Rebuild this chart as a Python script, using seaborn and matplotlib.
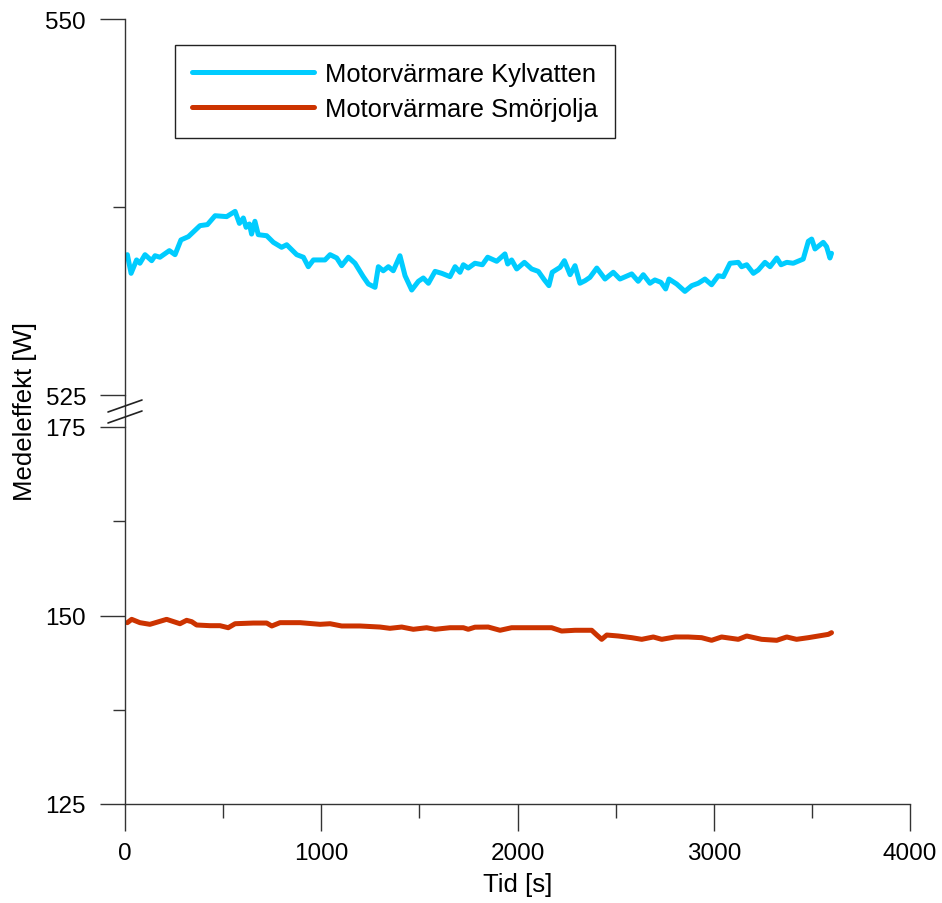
import pandas as pd
import matplotlib.pyplot as plt
import seaborn as sns
from matplotlib.lines import Line2D
from matplotlib.ticker import MultipleLocator

# Data
tid_kyl = [12, 31, 59, 76, 102, 136, 153, 178, 226, 255, 285, 323, 382, 420, 459, 518,
           561, 583, 603, 617, 634, 645, 662, 679, 722, 756, 798, 824, 875, 909, 934, 960,
           1019, 1045, 1079, 1104, 1138, 1172, 1214, 1240, 1274, 1291, 1316, 1342, 1367,
           1401, 1427, 1461, 1495, 1520, 1546, 1580, 1614, 1656, 1682, 1707, 1724, 1749,
           1783, 1821, 1848, 1894, 1936, 1950, 1970, 1996, 2035, 2072, 2106, 2137, 2160,
           2177, 2217, 2239, 2268, 2293, 2318, 2344, 2369, 2404, 2446, 2488, 2522, 2582,
           2615, 2641, 2675, 2700, 2731, 2755, 2772, 2811, 2853, 2888, 2921, 2955, 2989,
           3023, 3049, 3083, 3125, 3142, 3168, 3202, 3227, 3261, 3287, 3321, 3343, 3372,
           3405, 3456, 3482, 3499, 3516, 3558, 3575, 3592, 3600]
kylvatten = [534.33, 533.09, 533.98, 533.76, 534.33, 533.93, 534.26, 534.16, 534.60, 534.33,
             535.31, 535.53, 536.26, 536.33, 536.92, 536.86, 537.21, 536.41, 536.77, 536.15,
             536.37, 535.70, 536.55, 535.66, 535.59, 535.15, 534.82, 534.99, 534.33, 534.16,
             533.53, 533.98, 533.98, 534.33, 534.11, 533.60, 534.16, 533.76, 532.87, 532.38,
             532.16, 533.53, 533.26, 533.53, 533.26, 534.26, 532.93, 531.98, 532.56, 532.78,
             532.43, 533.22, 533.09, 532.87, 533.53, 533.16, 533.66, 533.44, 533.76, 533.66,
             534.16, 533.89, 534.38, 533.71, 533.98, 533.38, 533.82, 533.38, 533.22, 532.65,
             532.27, 533.16, 533.49, 533.93, 533.00, 533.60, 532.43, 532.60, 532.82, 533.44,
             532.71, 533.16, 532.71, 533.05, 532.56, 533.00, 532.43, 532.65, 532.49, 532.05,
             532.71, 532.38, 531.89, 532.27, 532.43, 532.71, 532.33, 532.93, 532.87, 533.76,
             533.82, 533.53, 533.66, 533.09, 533.31, 533.82, 533.53, 534.11, 533.66, 533.82,
             533.76, 534.04, 535.22, 535.37, 534.71, 535.15, 534.86, 534.11, 534.42]

tid_smor = [12, 34, 76, 127, 212, 280, 314, 340, 365, 433, 484, 526, 561, 654, 722, 748,
            790, 892, 994, 1045, 1104, 1197, 1299, 1350, 1410, 1469, 1537, 1580, 1656,
            1724, 1749, 1783, 1851, 1911, 1970, 2055, 2174, 2225, 2293, 2378, 2404, 2429,
            2455, 2514, 2582, 2633, 2692, 2735, 2803, 2870, 2938, 2989, 3040, 3125, 3168,
            3244, 3321, 3372, 3422, 3482, 3533, 3584, 3600]
smorjolja = [149.05, 149.49, 149.05, 148.83, 149.49, 148.91, 149.36, 149.18, 148.74, 148.65,
             148.65, 148.38, 148.91, 149.00, 149.00, 148.61, 149.05, 149.05, 148.83, 148.91,
             148.61, 148.61, 148.47, 148.30, 148.47, 148.17, 148.38, 148.17, 148.38, 148.38,
             148.17, 148.45, 148.47, 148.04, 148.38, 148.38, 148.38, 147.94, 148.04, 148.04,
             147.41, 146.84, 147.41, 147.28, 147.06, 146.84, 147.15, 146.84, 147.15, 147.15,
             147.06, 146.71, 147.15, 146.84, 147.28, 146.84, 146.71, 147.15, 146.84, 147.06,
             147.28, 147.50, 147.72]

serier = ['Motorvärmare Kylvatten', 'Motorvärmare Smörjolja']
farger = ['#00CCFF', '#CC3300']

df = pd.concat([
    pd.DataFrame({'Tid': tid_kyl, 'Effekt': kylvatten, 'Serie': serier[0]}),
    pd.DataFrame({'Tid': tid_smor, 'Effekt': smorjolja, 'Serie': serier[1]}),
])

sns.set_style('white')
plt.rcParams['font.family'] = ['Liberation Sans', 'DejaVu Sans']
plt.rcParams['text.color'] = 'black'
plt.rcParams['xtick.labelcolor'] = 'black'
plt.rcParams['ytick.labelcolor'] = 'black'
axfarg = '#333333'

fig = plt.figure(figsize=(9.42, 9.04), dpi=100)
L, W = 125 / 942, 785 / 942
ax_top = fig.add_axes([L, 1 - 396 / 904, W, 376 / 904])
ax_bot = fig.add_axes([L, 1 - 805 / 904, W, 377 / 904])

for ax in (ax_top, ax_bot):
    sns.lineplot(data=df, x='Tid', y='Effekt', hue='Serie', palette=farger,
                 estimator=None, sort=False, linewidth=3.6, ax=ax, legend=(ax is ax_top))
    ax.set_xlim(0, 4000)
    ax.set_xlabel('')
    ax.set_ylabel('')
    ax.spines['top'].set_visible(False)
    ax.spines['right'].set_visible(False)
    ax.spines['left'].set_color(axfarg)
    ax.spines['left'].set_linewidth(1)
    ax.tick_params(axis='y', which='major', direction='out', length=18, width=1,
                   color=axfarg, labelsize=17.5, pad=10, left=True)
    ax.tick_params(axis='y', which='minor', direction='out', length=9, width=1,
                   color=axfarg, left=True)

# övre delen (525-550)
ax_top.set_ylim(525, 550)
ax_top.yaxis.set_major_locator(MultipleLocator(25))
ax_top.yaxis.set_minor_locator(MultipleLocator(12.5))
ax_top.spines['bottom'].set_visible(False)
ax_top.tick_params(axis='x', which='both', bottom=False, labelbottom=False)

# nedre delen (125-175)
ax_bot.set_ylim(125, 175)
ax_bot.yaxis.set_major_locator(MultipleLocator(25))
ax_bot.yaxis.set_minor_locator(MultipleLocator(12.5))
ax_bot.xaxis.set_major_locator(MultipleLocator(1000))
ax_bot.xaxis.set_minor_locator(MultipleLocator(500))
ax_bot.spines['bottom'].set_color(axfarg)
ax_bot.spines['bottom'].set_linewidth(1)
ax_bot.tick_params(axis='x', which='major', direction='out', length=19.5, width=1,
                   color=axfarg, labelsize=17.5, pad=8, bottom=True)
ax_bot.tick_params(axis='x', which='minor', direction='out', length=10, width=1,
                   color=axfarg, bottom=True)

# y-axel genom brytningen + brytmarkeringar
fig.add_artist(Line2D([L, L], [1 - 428 / 904, 1 - 396 / 904], color=axfarg, lw=1))
for yc in (407, 418):
    fig.add_artist(Line2D([(125 - 17) / 942, (125 + 17) / 942],
                          [1 - (yc + 6) / 904, 1 - (yc - 6) / 904], color='#222222', lw=1.2))

fig.text(518 / 942, 1 - 885 / 904, 'Tid [s]', ha='center', va='center', fontsize=18.5)
fig.text(25 / 942, 1 - 412 / 904, 'Medeleffekt [W]', ha='center', va='center',
         rotation=90, fontsize=18.5)

leg = ax_top.legend(loc='upper left', bbox_to_anchor=(175 / 942, 1 - 46 / 904),
                    bbox_transform=fig.transFigure, borderaxespad=0, fontsize=18.4,
                    frameon=True, fancybox=False, edgecolor='#222222', framealpha=1,
                    handlelength=4.8, handletextpad=0.43, labelspacing=0.45, borderpad=0.65)
leg.get_frame().set_linewidth(1)
for h in leg.get_lines():
    h.set_linewidth(3.6)

fig.savefig('out.png', dpi=100)
